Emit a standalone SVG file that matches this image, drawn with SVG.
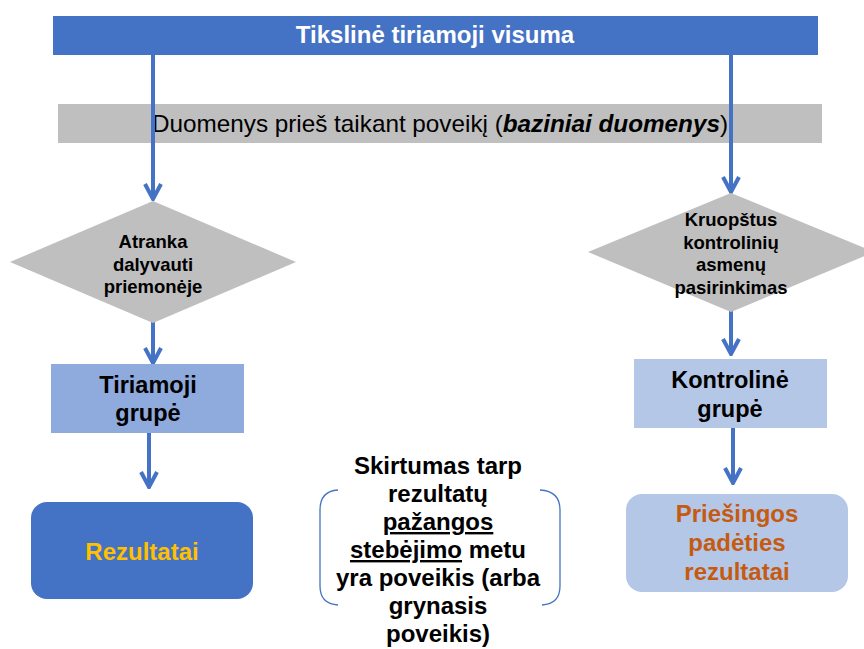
<svg xmlns="http://www.w3.org/2000/svg" width="864" height="649" viewBox="0 0 864 649">
<defs>
<style>
text{font-family:"Liberation Sans",Arial,sans-serif;text-anchor:middle;font-weight:bold;}
.conn{stroke:#4472c4;stroke-width:4;fill:none;}
.dia{fill:#bfbfbf;}
.dt{font-size:18.5px;fill:#000;}
.bt{font-size:23.5px;fill:#000;}
.brace{stroke:#4472c4;stroke-width:1.3;fill:none;}
</style>
<marker id="arr" viewBox="-18 -10 20 20" refX="0" refY="0" markerWidth="20" markerHeight="20" markerUnits="userSpaceOnUse" orient="auto">
<path d="M-15,-8 L0,0 L-15,8" fill="none" stroke="#4472c4" stroke-width="4" stroke-linejoin="miter"/>
</marker>
</defs>
<rect width="864" height="649" fill="#ffffff"/>
<g id="n_target">
<rect x="53" y="16" width="765" height="39" fill="#4472c4"/>
<text x="435" y="43" style="font-size:24px;fill:#ffffff">Tikslinė tiriamoji visuma</text>
</g>
<g id="n_baseline">
<rect x="58" y="104" width="764" height="39" fill="#bfbfbf"/>
<text x="440" y="132" textLength="576" lengthAdjust="spacingAndGlyphs" style="font-size:24px;font-weight:normal;fill:#000">Duomenys prieš taikant poveikį (<tspan style="font-weight:bold;font-style:italic">baziniai duomenys</tspan>)</text>
</g>
<g id="connectors">
<line class="conn" x1="153" y1="55" x2="153" y2="199" marker-end="url(#arr)"/>
<line class="conn" x1="153" y1="322" x2="153" y2="363" marker-end="url(#arr)"/>
<line class="conn" x1="149" y1="432" x2="149" y2="487" marker-end="url(#arr)"/>
<line class="conn" x1="731" y1="55" x2="731" y2="192" marker-end="url(#arr)"/>
<line class="conn" x1="731" y1="311" x2="731" y2="354" marker-end="url(#arr)"/>
<line class="conn" x1="733" y1="427" x2="733" y2="483" marker-end="url(#arr)"/>
</g>
<g id="n_selection">
<polygon class="dia" points="153,201 296,262 153,323 10,262"/>
<text class="dt" x="153" y="248">Atranka</text>
<text class="dt" x="153" y="271">dalyvauti</text>
<text class="dt" x="153" y="293">priemonėje</text>
</g>
<g id="n_control_selection">
<polygon class="dia" points="731,193 874,252 731,312 588,252"/>
<text class="dt" x="731" y="226">Kruopštus</text>
<text class="dt" x="731" y="248.5">kontrolinių</text>
<text class="dt" x="731" y="271">asmenų</text>
<text class="dt" x="731" y="293.5">pasirinkimas</text>
</g>
<g id="n_treatment_group">
<rect x="51" y="364" width="193" height="69" fill="#8faadc"/>
<text class="bt" x="148" y="393">Tiriamoji</text>
<text class="bt" x="148" y="421">grupė</text>
</g>
<g id="n_control_group">
<rect x="634" y="359" width="193" height="69" fill="#b4c7e7"/>
<text class="bt" x="730" y="388">Kontrolinė</text>
<text class="bt" x="730" y="416.5">grupė</text>
</g>
<g id="n_results">
<rect x="31" y="502" width="222" height="97" rx="16" fill="#4472c4"/>
<text x="142" y="560" style="font-size:24px;fill:#ffc000">Rezultatai</text>
</g>
<g id="n_counterfactual">
<rect x="626" y="494" width="222" height="98" rx="16" fill="#b4c7e7"/>
<text x="737" y="522" style="font-size:24px;fill:#c55a11">Priešingos</text>
<text x="737" y="551" style="font-size:24px;fill:#c55a11">padėties</text>
<text x="737" y="580" style="font-size:24px;fill:#c55a11">rezultatai</text>
</g>
<g id="n_difference">
<path class="brace" d="M338,490 Q320,491 320,510 L320,586 Q320,604 338,605"/>
<path class="brace" d="M540,490 Q560,491 560,510 L560,586 Q560,604 542,605"/>
<text x="438" y="474" style="font-size:24px;fill:#000">Skirtumas tarp</text>
<text x="438" y="502" style="font-size:24px;fill:#000">rezultatų</text>
<text x="438" y="530" style="font-size:24px;fill:#000"><tspan text-decoration="underline">pažangos</tspan></text>
<text x="438" y="558" style="font-size:24px;fill:#000"><tspan text-decoration="underline">stebėjimo</tspan> metu</text>
<text x="438" y="586" style="font-size:24px;fill:#000">yra poveikis (arba</text>
<text x="438" y="614" style="font-size:24px;fill:#000">grynasis</text>
<text x="438" y="642" style="font-size:24px;fill:#000">poveikis)</text>
</g>
</svg>
